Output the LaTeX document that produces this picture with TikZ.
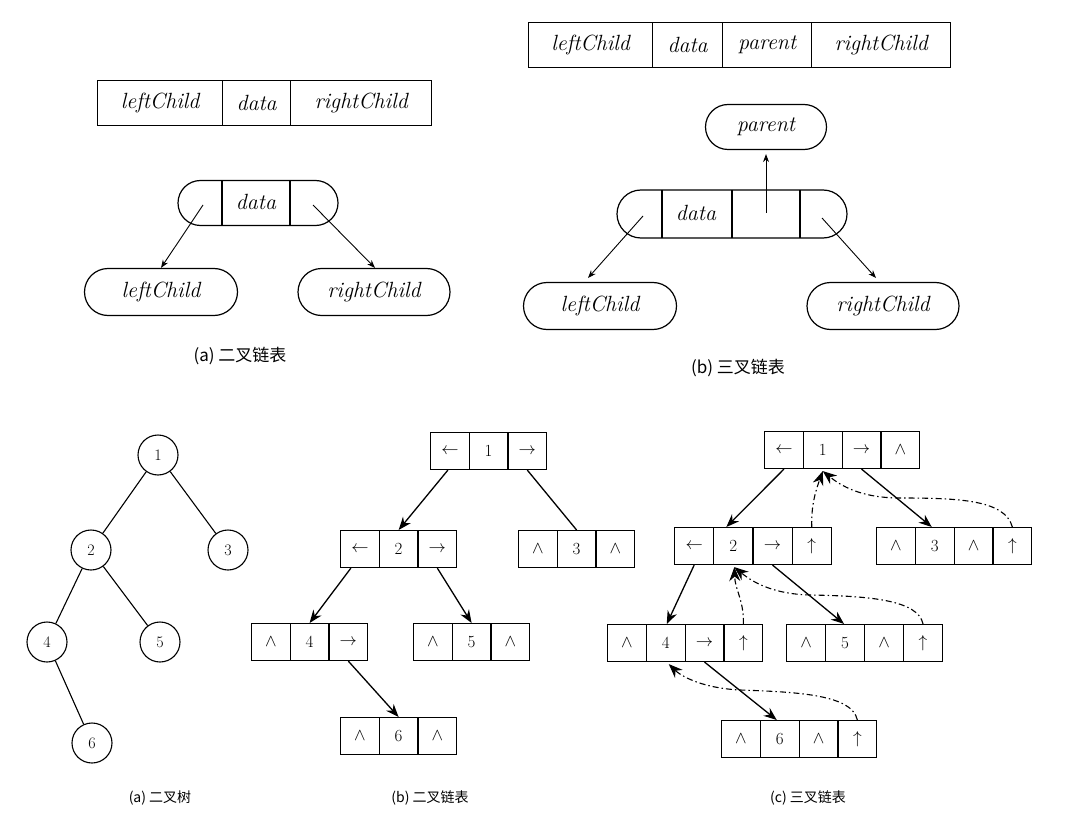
\documentclass[tikz,border=0pt]{standalone}
\usepackage{fontspec}
\newfontfamily\cjk{Noto Sans CJK SC}
\usetikzlibrary{shapes.misc,arrows.meta}
\begin{document}
\begin{tikzpicture}[x=1pt,y=-1pt,
  cell/.style={draw,line width=1.1pt,minimum height=37pt,inner sep=0pt,font=\fontsize{17}{17}\selectfont},
  tab/.style={draw,line width=1.3pt,minimum height=45pt,inner sep=0pt,font=\fontsize{22}{22}\selectfont\itshape},
  rr/.style={draw,line width=1.2pt,rounded rectangle,minimum height=47pt,inner sep=0pt,font=\fontsize{22}{22}\selectfont\itshape},
  circ/.style={draw,circle,line width=1.1pt,minimum size=40pt,inner sep=0pt,font=\fontsize{16}{16}\selectfont},
  arr/.style={line width=1.3pt,-{Stealth[length=13pt,width=10pt]}},
  thin arr/.style={line width=0.9pt,-{Stealth[length=8pt,width=6pt]}},
  par/.style={line width=1.1pt,dash pattern=on 6pt off 3pt on 1.5pt off 3pt,-{Stealth[length=14pt,width=11pt]}},
  bigcap/.style={font=\cjk\fontsize{17}{17}\selectfont},
  scap/.style={font=\cjk\fontsize{14}{14}\selectfont}]
\useasboundingbox (0,0) rectangle (1083,826);
% ---------- top (a)
\node[tab,minimum width=125pt,anchor=north west] (ta1) at (97,80) {leftChild};
\node[tab,minimum width=68pt,anchor=north west] (ta2) at (222,80) {data};
\node[tab,minimum width=141pt,anchor=north west] (ta3) at (290,80) {rightChild};
\node[rr,minimum width=160pt,minimum height=45pt] (an) at (258,203) {};
\draw[line width=1.2pt] (222,180.5) -- (222,225.5) (290,180.5) -- (290,225.5);
\node[font=\fontsize{22}{22}\selectfont\itshape] (adata) at (256,202) {data};
\node[rr,minimum width=153pt] (al) at (161,292) {leftChild};
\node[rr,minimum width=152pt] (ar) at (374,292) {rightChild};
\coordinate (aL) at (203,205); \coordinate (aR) at (313,205);
\draw[thin arr] (aL) -- (al.north);
\draw[thin arr] (aR) -- ([xshift=1pt]ar.north);
\node[bigcap] (capa) at (240,356) {(a)\ 二叉链表};
% ---------- top (b)
\node[tab,minimum width=124pt,anchor=north west] (tb1) at (528,22) {leftChild};
\node[tab,minimum width=70pt,anchor=north west] (tb2) at (652,22) {data};
\node[tab,minimum width=89pt,anchor=north west] (tb3) at (722,22) {parent};
\node[tab,minimum width=139pt,anchor=north west] (tb4) at (811,22) {rightChild};
\node[rr,minimum width=121pt,minimum height=45pt] (bp) at (766,127) {parent};
\node[rr,minimum width=230pt,minimum height=48pt] (bn) at (732,214) {};
\draw[line width=1.2pt] (662,190) -- (662,238) (732,190) -- (732,238) (800,190) -- (800,238);
\node[font=\fontsize{22}{22}\selectfont\itshape] (bdata) at (696,213) {data};
\coordinate (bP) at (766,213); \coordinate (bL) at (643,216); \coordinate (bR) at (822,218);
\draw[thin arr] (bP) -- ([yshift=-4pt]bp.south);
\draw[thin arr] (bL) -- (588,278);
\draw[thin arr] (bR) -- (876,278);
\node[rr,minimum width=153pt] (bl) at (600,306) {leftChild};
\node[rr,minimum width=152pt] (br) at (883,306) {rightChild};
\node[bigcap] (capb) at (738,368) {(b)\ 三叉链表};
% ---------- bottom (a) tree
\node[circ] (t1) at (158,455) {1};
\node[circ] (t2) at (91,550) {2};
\node[circ] (t3) at (228,550) {3};
\node[circ] (t4) at (47,642) {4};
\node[circ] (t5) at (160,642) {5};
\node[circ] (t6) at (92,743) {6};
\draw[line width=1.1pt] (t1) -- (t2) (t1) -- (t3) (t2) -- (t4) (t2) -- (t5) (t4) -- (t6);
\node[scap] (capta) at (160,798) {(a)\ 二叉树};
% ---------- helpers
\newcommand\mkrow[5]{% name, x, y, cell width, list
  \foreach \t [count=\i] in {#5} {
    \node[cell,minimum width=#4pt,anchor=north west] (#1-\i) at ({#2+(\i-1)*#4},#3) {\t};
  }}
% ---------- bottom (b)
\mkrow{b1}{430}{432}{38.7}{$\leftarrow$,1,$\rightarrow$}
\mkrow{b2}{340}{530}{38.7}{$\leftarrow$,2,$\rightarrow$}
\mkrow{b3}{518}{530}{38.7}{$\wedge$,3,$\wedge$}
\mkrow{b4}{251}{623}{38.7}{$\wedge$,4,$\rightarrow$}
\mkrow{b5}{413}{623}{38.7}{$\wedge$,5,$\wedge$}
\mkrow{b6}{340}{717}{38.7}{$\wedge$,6,$\wedge$}
\draw[arr] ([xshift=-2pt]b1-1.south) -- (b2-2.north);
\draw[line width=1.3pt] (b1-3.south) -- (b3-2.north);
\draw[arr] ([xshift=-9pt]b2-1.south) -- (b4-2.north);
\draw[arr] (b2-3.south) -- (b5-2.north);
\draw[arr] (b4-3.south) -- (b6-2.north);
\node[scap] (captb) at (430,798) {(b)\ 二叉链表};
% ---------- bottom (c)
\mkrow{c1}{764}{431}{38.8}{$\leftarrow$,1,$\rightarrow$,$\wedge$}
\mkrow{c2}{674}{527}{39.2}{$\leftarrow$,2,$\rightarrow$,$\uparrow$}
\mkrow{c3}{876}{527}{38.8}{$\wedge$,3,$\wedge$,$\uparrow$}
\mkrow{c4}{607}{624}{38.8}{$\wedge$,4,$\rightarrow$,$\uparrow$}
\mkrow{c5}{786}{624}{39}{$\wedge$,5,$\wedge$,$\uparrow$}
\mkrow{c6}{721}{720}{38.8}{$\wedge$,6,$\wedge$,$\uparrow$}
\draw[arr] (c1-1.south) -- ([xshift=-7pt]c2-2.north);
\draw[arr] (c1-3.south) -- ([xshift=-3pt]c3-2.north);
\draw[arr] (c2-1.south) -- ([xshift=1pt]c4-2.north);
\draw[arr] (c2-3.south) -- ([xshift=-1pt]c5-2.north);
\draw[arr] (c4-3.south) -- ([xshift=-3pt]c6-2.north);
\draw[par] (c2-4.north) .. controls (811,505) and (816,490) .. ([yshift=-2pt]c1-2.south);
\draw[par] (c3-4.north) .. controls (1005,500) and (960,498) .. (900,498) .. controls (860,498) and (840,485) .. ([yshift=-2pt]c1-2.south);
\draw[par] (c4-4.north) .. controls (744,600) and (735,590) .. ([xshift=1pt,yshift=-2pt]c2-2.south);
\draw[par] (c5-4.north) .. controls (918,600) and (870,596) .. (810,595) .. controls (770,594) and (750,580) .. ([xshift=1pt,yshift=-2pt]c2-2.south);
\draw[par] (c6-4.north) .. controls (852,695) and (800,692) .. (740,690) .. controls (700,688) and (680,675) .. ([xshift=3pt,yshift=-2pt]c4-2.south);
\node[scap] (captc) at (808,798) {(c)\ 三叉链表};
\end{tikzpicture}
\end{document}
